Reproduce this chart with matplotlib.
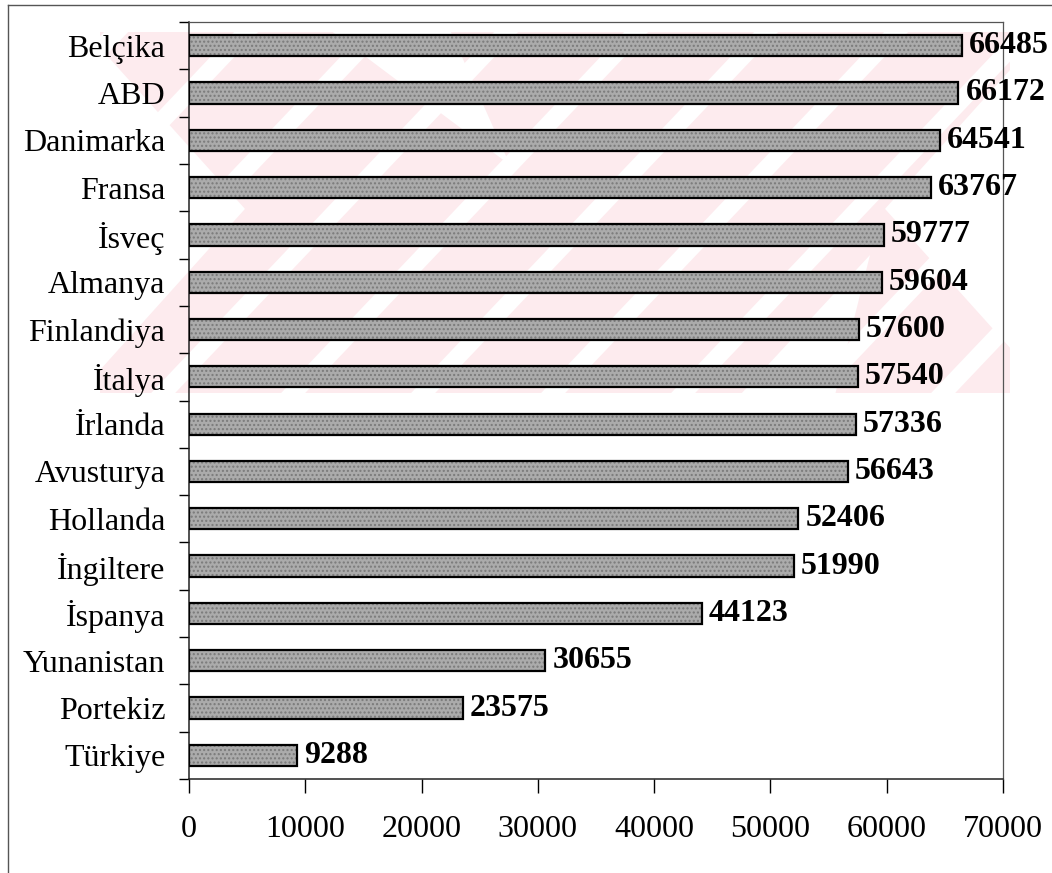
import numpy as np
import matplotlib
matplotlib.use("Agg")
import matplotlib.pyplot as plt
from matplotlib.patches import Polygon, Rectangle
from matplotlib.lines import Line2D

countries = ["Belçika", "ABD", "Danimarka", "Fransa", "İsveç", "Almanya",
             "Finlandiya", "İtalya", "İrlanda", "Avusturya", "Hollanda",
             "İngiltere", "İspanya", "Yunanistan", "Portekiz", "Türkiye"]
values = [66485, 66172, 64541, 63767, 59777, 59604, 57600, 57540,
          57336, 56643, 52406, 51990, 44123, 30655, 23575, 9288]
x_ticks = [0, 10000, 20000, 30000, 40000, 50000, 60000, 70000]

W, H = 1052, 873
plt.rcParams['font.family'] = ['Liberation Serif', 'DejaVu Serif']

fig = plt.figure(figsize=(W / 100, H / 100), dpi=100)
ax = fig.add_axes([189 / W, 1 - 779 / H, (1003 - 189) / W, (779 - 22) / H])
ax.set_facecolor('none')


def px(x, y):
    # pixel position -> figure fraction
    return (x / W, 1 - y / H)


def fig_poly(pts, color, z, clip):
    p = Polygon([px(*q) for q in pts], closed=True, transform=fig.transFigure,
                facecolor=color, edgecolor='none', zorder=z)
    p.set_clip_path(clip)
    fig.add_artist(p)


# faint pink watermark behind the chart (scan artefact of the source)
pink = '#fdebee'
clip = Rectangle(px(100, 393), (1010 - 100) / W, (393 - 32) / H,
                 transform=fig.transFigure, visible=False)
fig.add_artist(clip)
band_w = 640
k = 0.9
fig_poly([(120 - k * 40, 30), (120 - k * 40 + band_w, 30),
          (120 + k * 325 + band_w, 395), (120 + k * 325, 395)], pink, -3, clip)
fig_poly([(1010 + k * 40, 30), (1010 + k * 40 - band_w, 30),
          (1010 - k * 325 - band_w, 395), (1010 - k * 325, 395)], pink, -3, clip)
for c in np.arange(80, 1400, 130):
    sw = 12
    fig_poly([(c - sw + 0.95 * 40, 30), (c + sw + 0.95 * 40, 30),
              (c + sw - 0.95 * 325, 395), (c - sw - 0.95 * 325, 395)],
             'white', -2, clip)
# notches of the logo
fig_poly([(330, 30), (450, 30), (510, 165)], 'white', -2, clip)
fig_poly([(740, 395), (835, 395), (870, 255)], 'white', -2, clip)

# outer frame of the scanned figure
fig.add_artist(Line2D([8 / W, 8 / W], [0, 1 - 5 / H], transform=fig.transFigure,
                      color='#555555', lw=1))
fig.add_artist(Line2D([8 / W, 1], [1 - 5 / H, 1 - 5 / H], transform=fig.transFigure,
                      color='#555555', lw=1))

ypos = np.arange(len(countries))[::-1]
ax.barh(ypos, values, height=0.45, color='#ababab', edgecolor='#7a7a7a',
        hatch='....', linewidth=0, zorder=2)
ax.barh(ypos, values, height=0.45, color='none', edgecolor='black',
        linewidth=1.6, zorder=3)

for y, v in zip(ypos, values):
    ax.text(v + 600, y, str(v), va='center', ha='left', fontsize=23,
            fontweight='bold', color='black', zorder=4)

ax.set_xlim(0, 70000)
ax.set_ylim(-0.5, len(countries) - 0.5)
ax.set_xticks(x_ticks)
ax.set_xticklabels([str(t) for t in x_ticks], fontsize=23)
ax.set_yticks(ypos)
ax.set_yticklabels(countries, fontsize=23)
ax.set_yticks(np.arange(-0.5, len(countries), 1), minor=True)
ax.tick_params(axis='y', which='major', length=0, pad=17)
ax.tick_params(axis='y', which='minor', length=7, width=1, direction='out')
ax.tick_params(axis='x', length=10, width=1, direction='out', pad=16)

for s in ['left', 'bottom']:
    ax.spines[s].set_color('#222222')
    ax.spines[s].set_linewidth(1.1)
for s in ['top', 'right']:
    ax.spines[s].set_color('#555555')
    ax.spines[s].set_linewidth(0.9)

fig.savefig('out.png', dpi=100)
